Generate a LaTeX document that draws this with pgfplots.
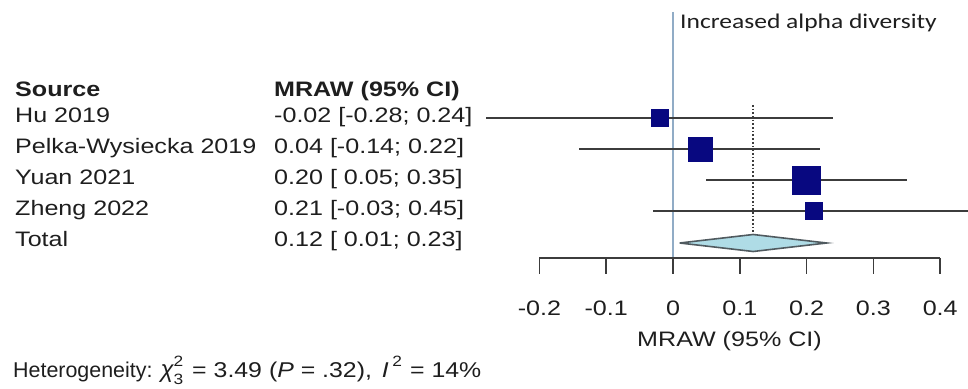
\documentclass[border=0pt]{standalone}
\usepackage{pgfplots}
\pgfplotsset{compat=1.18}
\usepackage{pgfplotstable}
\usepackage{fontspec}
\setmainfont{Liberation Sans}
\newfontfamily\tabfont[FakeStretch=1.2]{Liberation Sans}
\newfontfamily\hetfont[FakeStretch=1.16]{Liberation Sans}
\newfontfamily\calfont[FakeStretch=1.22]{Carlito}
\definecolor{sqblue}{RGB}{8,8,128}
\definecolor{cigray}{RGB}{60,60,60}
\definecolor{zeroline}{RGB}{145,172,198}
\definecolor{diafill}{RGB}{175,220,230}
\definecolor{diaedge}{RGB}{80,90,95}
\definecolor{txt}{RGB}{30,30,30}

\pgfplotstableread{
x y lo hi s
-0.02 -118 -0.28 0.24 8.5
0.04 -149 -0.14 0.22 12
0.20 -180 0.05 0.35 14
0.21 -211 -0.03 0.45 8.5
}\studies

\pgfplotstableread{
x y
0.01 -243
0.12 -234.5
0.23 -243
0.12 -251.5
0.01 -243
}\totaldiamond

\newcommand{\scr}[1]{{\hetfont\fontsize{15}{17}\selectfont #1}}

\begin{document}
\begin{tikzpicture}
\begin{axis}[
  scale only axis, width=968bp, height=389bp,
  xmin=-1.00749, xmax=0.44162, ymin=-389, ymax=0,
  hide axis, clip=true,
]
\coordinate (bl) at (rel axis cs:0,0);
\coordinate (tr) at (rel axis cs:1,1);
% zero line
\addplot[zeroline, line width=1.1pt] coordinates {(0,-12) (0,-258)};
% dotted overall effect line
\addplot[cigray, line width=1.7pt, dotted] coordinates {(0.12,-105) (0.12,-233)};
% CIs
\addplot[draw=none, mark=none,
  error bars/.cd, x dir=both, x explicit, error mark=none,
  error bar style={cigray, line width=1.9pt}]
  table[x=x, y=y,
    x error plus expr=\thisrow{hi}-\thisrow{x},
    x error minus expr=\thisrow{x}-\thisrow{lo}] \studies;
% squares
\addplot[scatter, only marks, mark=square*,
  scatter/use mapped color={draw=sqblue, fill=sqblue},
  visualization depends on={\thisrow{s} \as \msize},
  scatter/@pre marker code/.append style={/tikz/mark size=\msize bp}]
  table[x=x, y=y] \studies;
% diamond
\addplot[fill=diafill, draw=diaedge, line width=1.6pt] table[x=x,y=y] \totaldiamond;
% axis line and ticks
\addplot[cigray, line width=1.7pt] coordinates {(-0.2,-258) (0.4,-258)};
\pgfplotsinvokeforeach{-0.2,-0.1,0,0.1,0.2,0.3,0.4}{
  \addplot[cigray, line width=1.7pt] coordinates {(#1,-258) (#1,-274)};
}
% tick labels
\begin{scope}[every node/.style={anchor=base, inner sep=0pt, text=txt, font=\tabfont\fontsize{21}{25}\selectfont}]
\node at (axis cs:-0.2,-315) {-0.2};
\node at (axis cs:-0.1,-315) {-0.1};
\node at (axis cs:0,-315) {0};
\node at (axis cs:0.1,-315) {0.1};
\node at (axis cs:0.2,-315) {0.2};
\node at (axis cs:0.3,-315) {0.3};
\node at (axis cs:0.4,-315) {0.4};
\node at (axis cs:0.0846,-346) {MRAW (95\% CI)};
\end{scope}
% table text
\begin{scope}[every node/.style={anchor=base west, inner sep=0pt, text=txt, font=\tabfont\fontsize{21}{25}\selectfont}]
\node at (axis cs:-0.98503,-97) {\bfseries Source};
\node at (axis cs:-0.59731,-97) {\bfseries MRAW (95\% CI)};
\node at (axis cs:-0.98503,-123) {Hu 2019};
\node at (axis cs:-0.98503,-154) {Pelka-Wysiecka 2019};
\node at (axis cs:-0.98503,-185) {Yuan 2021};
\node at (axis cs:-0.98503,-216) {Zheng 2022};
\node at (axis cs:-0.98503,-247) {Total};
\node at (axis cs:-0.59731,-123) {-0.02 [-0.28; 0.24]};
\node at (axis cs:-0.59731,-154) {0.04 [-0.14; 0.22]};
\node at (axis cs:-0.59731,-185) {0.20 [ 0.05; 0.35]};
\node at (axis cs:-0.59731,-216) {0.21 [-0.03; 0.45]};
\node at (axis cs:-0.59731,-247) {0.12 [ 0.01; 0.23]};
\end{scope}
\node[anchor=base west, inner sep=0pt, text=txt, font=\calfont\fontsize{21}{25}\selectfont] at (axis cs:0.01048,-29) {Increased alpha diversity};
% heterogeneity line
\node[anchor=base west, inner sep=0pt, text=txt, font=\fontsize{21.5}{25}\selectfont] at (axis cs:-0.98802,-377)
  {Heterogeneity:\hspace{8bp}{\fontsize{24}{28}\selectfont\itshape χ}\rlap{\raisebox{0.5em}{\scr{2}}}\raisebox{-0.35em}{\scr{3}}\hetfont\hspace{9bp}=\hspace{7bp}3.49\hspace{7bp}(\textit{P} = .32),\hspace{10bp}\textit{I}\,\raisebox{0.5em}{\scr{2}}\hspace{8bp}=\hspace{7bp}14\%};
\end{axis}
\pgfresetboundingbox
\path[use as bounding box] (bl) rectangle (tr);
\end{tikzpicture}
\end{document}
